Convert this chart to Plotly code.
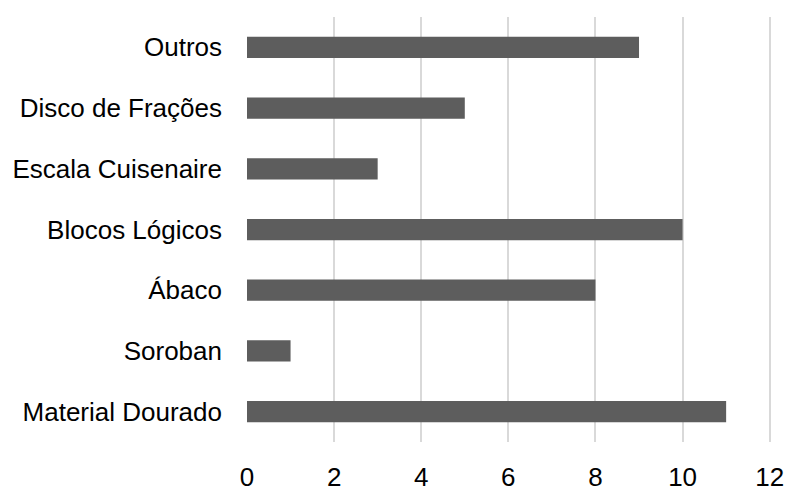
import plotly.graph_objects as go

# Materiais manipuláveis (de baixo para cima no eixo)
categories = ["Material Dourado", "Soroban", "Ábaco", "Blocos Lógicos",
              "Escala Cuisenaire", "Disco de Frações", "Outros"]
values = [11, 1, 8, 10, 3, 5, 9]
x_ticks = [0, 2, 4, 6, 8, 10, 12]

fig = go.Figure(
    go.Bar(
        x=values,
        y=categories,
        orientation="h",
        width=0.35,
        marker=dict(color="#5d5d5d", line=dict(width=0)),
    )
)

fig.update_layout(
    width=785,
    height=493,
    margin=dict(l=247, r=14, t=17, b=51, autoexpand=False),
    paper_bgcolor="white",
    plot_bgcolor="white",
    font=dict(family="Liberation Sans, Arial, sans-serif", size=26, color="#000000"),
    showlegend=False,
)

fig.update_xaxes(
    range=[0, 12.03],
    tickvals=x_ticks,
    ticktext=[str(t) for t in x_ticks],
    showgrid=True,
    gridcolor="#d9d9d9",
    gridwidth=2,
    zeroline=False,
    showline=False,
    ticks="",
    ticklabelstandoff=17,
    automargin=False,
)

fig.update_yaxes(
    categoryorder="array",
    categoryarray=categories,
    showgrid=False,
    zeroline=False,
    showline=False,
    ticks="",
    ticklabelstandoff=24,
    automargin=False,
)

fig.write_html("out.html")
